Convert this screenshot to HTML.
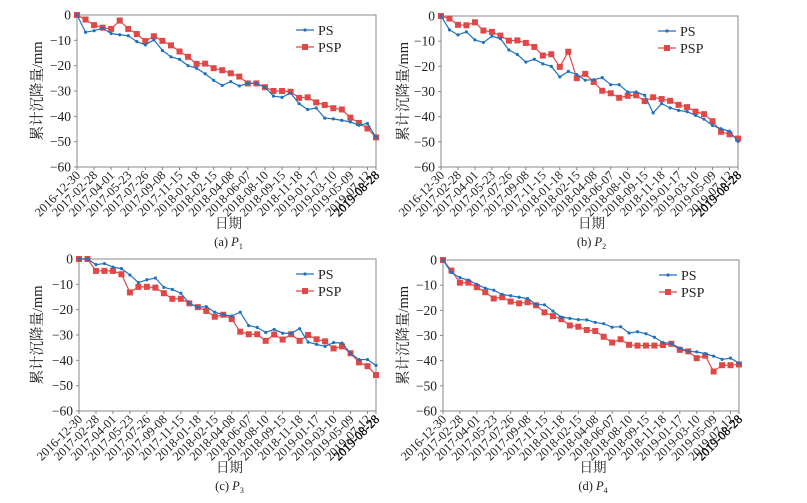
<!DOCTYPE html>
<html><head><meta charset="utf-8">
<style>
html,body{margin:0;padding:0;background:#fff;}
svg{display:block;font-family:"Liberation Serif","Noto Serif CJK SC",serif;}
</style></head>
<body>
<svg id="chart" width="807" height="503" viewBox="0 0 807 503" xmlns="http://www.w3.org/2000/svg"></svg>
<script>
const dates = ["2016-12-30","2017-02-28","2017-04-01","2017-05-23","2017-07-26","2017-09-08","2017-11-15","2018-01-18","2018-02-15","2018-04-08","2018-06-07","2018-08-10","2018-09-15","2018-11-18","2019-01-17","2019-03-10","2019-05-09","2019-07-12","2019-08-28"];
const yTicks = [0,-10,-20,-30,-40,-50,-60];
const psA = [0,-6.8,-6.2,-5.2,-7.3,-7.8,-8.2,-10.5,-11.8,-9.8,-14,-16.5,-17.5,-20,-21,-23.2,-25.8,-27.8,-26.3,-28,-27,-27,-28.5,-32,-32.5,-30.8,-35,-37.3,-36.7,-40.7,-41,-41.6,-42.2,-43.5,-42.8,-48.3];
const pspA = [0,-1.8,-4,-5,-5.5,-2.2,-5.5,-7.5,-10.3,-8.4,-10.2,-12,-14.4,-16.5,-19.3,-19.2,-21,-21.8,-23,-24.3,-27,-27,-28.5,-30,-30,-30.3,-32.7,-32.5,-34.5,-35.5,-36.8,-37.3,-40.5,-42.6,-44.8,-48.3];
const psB = [0,-5.5,-7.5,-6.3,-9.5,-10.5,-8,-9,-13.5,-15.3,-18.3,-17.2,-19,-20,-24.2,-22,-23.3,-25.5,-25.3,-24.5,-27.3,-27.3,-30.2,-30.2,-31.5,-38.5,-34.8,-36.5,-37.5,-38,-39.5,-41,-43.5,-44.8,-45.8,-49.8];
const pspB = [0,-1,-3.5,-3.7,-2.5,-5.8,-6.3,-7.8,-9.8,-9.7,-10.7,-12.3,-15.7,-15.2,-20.2,-14.2,-24.7,-23,-26.2,-29.7,-30.7,-32.5,-31.7,-31.5,-33.8,-32.3,-33,-33.7,-35.3,-36.2,-38,-39,-41.8,-46,-47,-48.7];
const psC = [0,0,-2.2,-1.8,-3.2,-3.8,-6.3,-9.3,-8.2,-7.5,-11.2,-12,-13.5,-17.5,-19,-18.8,-21,-22,-22.5,-21,-26.3,-27,-29,-27.8,-29.3,-29.3,-27.5,-32.8,-33.7,-34.5,-33,-33.2,-37.2,-39.7,-39.7,-42];
const pspC = [0,0,-4.7,-4.7,-4.7,-6,-13.2,-11,-11,-11.3,-13.5,-15.7,-15.7,-17.5,-19,-20.5,-22.8,-22,-23.7,-28.7,-29.7,-29.7,-32.3,-29.8,-31.8,-29.7,-32.3,-30,-31.7,-32.5,-35.3,-34.5,-37.2,-40.8,-42.3,-45.8];
const psD = [0,-5,-7,-8,-9.7,-11.2,-12,-13.7,-14.2,-14.8,-15.3,-17.7,-17.8,-20.3,-22.7,-23.2,-23.7,-23.8,-24.8,-25.3,-26.7,-26.5,-29,-28.5,-29.3,-30.7,-32.8,-33.2,-35,-36.3,-36.5,-37.2,-38.2,-39.5,-39,-41];
const pspD = [0,-4.2,-9,-9,-10.8,-12.8,-15.3,-14.8,-16.5,-17.2,-16.8,-18,-20.8,-22.3,-23.5,-26,-26.5,-27.8,-28.2,-30.5,-32.8,-31.5,-33.7,-34,-34,-34,-33.8,-33.3,-35.7,-36.3,-39,-38,-44.3,-41.8,-41.8,-41.5];

const NS = "http://www.w3.org/2000/svg";
const svg = document.getElementById('chart');
function mk(tag, attrs, parent){
  const e = document.createElementNS(NS, tag);
  for (const k in attrs) e.setAttribute(k, attrs[k]);
  (parent||svg).appendChild(e);
  return e;
}
const BLUE="#1f72bd", RED="#e04848";

function panel(id, L, T, R, B, ps, psp, letter, sub, yLabX){
  const g = mk('g', {});
  
  
  const n = ps.length;
  const xs = i => L + (R - L) * i / (n - 1);
  const ys = v => T + (B - T) * (0 - v) / 60;
  const frame = mk('rect', {x:L, y:T, width:R-L, height:B-T, fill:'#fff', stroke:'#888', 'stroke-width':1}, g);
  
  
  yTicks.forEach(v => {
    const y = ys(v);
    mk('line', {x1:L-3, x2:L, y1:y, y2:y, stroke:'#888'}, g);
    const t = mk('text', {x:L-6, y:y+4.5, 'text-anchor':'end', 'font-size':13.5, fill:'#222'}, g);
    t.textContent = v === 0 ? '0' : '\u2212' + Math.abs(v);
    
    
  });
  dates.forEach((d, k) => {
    const last = k === dates.length - 1;
    const i = !last ? k * 2 : n - 1;
    const x = xs(i);
    mk('line', {x1:x, x2:x, y1:B, y2:B+3, stroke:'#888'}, g);
    const t = mk('text', {x:x+4, y:B+9, 'text-anchor':'end', 'font-size':12.5, fill:last?'#000':'#222', 'stroke':last?'#000':'none', 'stroke-width':last?0.3:0, transform:'rotate(-45 '+(x+4)+' '+(B+9)+')'}, g);
    t.textContent = d;
    
    
  });
  const ptsPsp = psp.map((v,i)=>xs(i)+','+ys(v)).join(' ');
  const ptsPs = ps.map((v,i)=>xs(i)+','+ys(v)).join(' ');
  const lp = mk('polyline', {points:ptsPsp, fill:'none', stroke:RED, 'stroke-width':1.2}, g);
  
  
  psp.forEach((v,i) => {
    const r = mk('rect', {x:xs(i)-3, y:ys(v)-3, width:6, height:6, fill:RED}, g);
    
    
  });
  const l = mk('polyline', {points:ptsPs, fill:'none', stroke:BLUE, 'stroke-width':1.2}, g);
  
  
  ps.forEach((v,i) => {
    const c = mk('circle', {cx:xs(i), cy:ys(v), r:1.6, fill:BLUE}, g);
    
    
  });
  const lx = R - 80, ly = T + 15;
  const lg = mk('g', {}, g);
  
  
  mk('line', {x1:lx, x2:lx+18, y1:ly, y2:ly, stroke:BLUE, 'stroke-width':1.2}, lg);
  mk('circle', {cx:lx+9, cy:ly, r:1.6, fill:BLUE}, lg);
  const t1 = mk('text', {x:lx+22, y:ly+5, 'font-size':14, fill:'#222'}, lg);
  t1.textContent = 'PS';
  
  
  mk('line', {x1:lx, x2:lx+18, y1:ly+17, y2:ly+17, stroke:RED, 'stroke-width':1.2}, lg);
  mk('rect', {x:lx+6, y:ly+14, width:6, height:6, fill:RED}, lg);
  const t2 = mk('text', {x:lx+22, y:ly+22, 'font-size':14, fill:'#222'}, lg);
  t2.textContent = 'PSP';
  
  
  const cy = (T + B) / 2;
  const yt = mk('text', {x:yLabX, y:cy, 'text-anchor':'middle', 'font-size':14.5, fill:'#222', transform:'rotate(-90 '+yLabX+' '+cy+')'}, g);
  yt.textContent = '累计沉降量/mm';
  
  
  const cx = (L + R) / 2 + 2;
  const xt = mk('text', {x:cx, y:B+61, 'text-anchor':'middle', 'font-size':13.5, fill:'#222'}, g);
  xt.textContent = '日期';
  
  
  const cap = mk('text', {x:cx, y:B+79, 'text-anchor':'middle', 'font-size':12.5, fill:'#222'}, g);
  
  
  const s1 = mk('tspan', {}, cap); s1.textContent = '(' + letter + ') ';
  const s2 = mk('tspan', {'font-style':'italic'}, cap); s2.textContent = 'P';
  const s3 = mk('tspan', {'font-size':8, dy:3}, cap); s3.textContent = sub;
}

panel('a', 77, 15, 376, 167, psA, pspA, 'a', '1', 42);
panel('b', 441, 16, 738, 167, psB, pspB, 'b', '2', 408);
panel('c', 79, 259, 376, 411, psC, pspC, 'c', '3', 42);
panel('d', 443, 260, 739, 411, psD, pspD, 'd', '4', 408);
</script>
</body></html>
